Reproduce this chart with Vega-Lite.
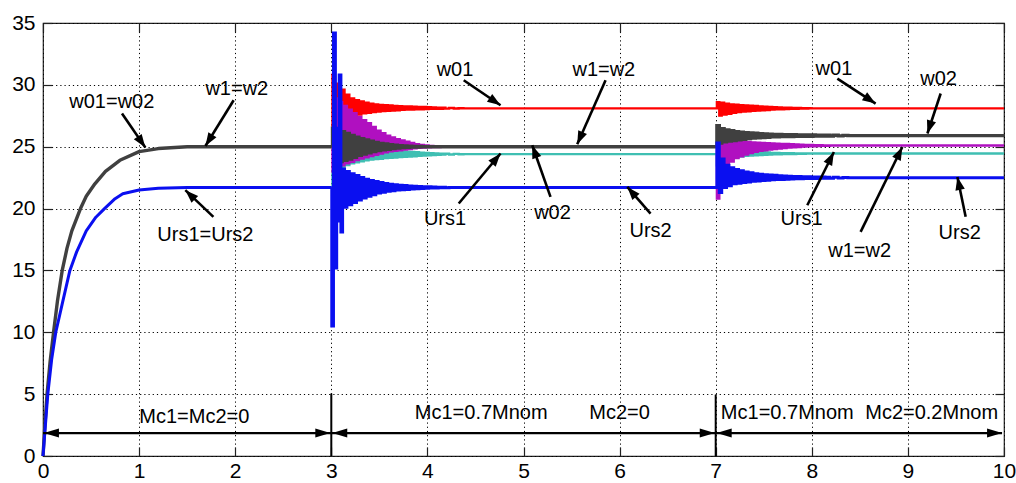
{
 "$schema": "https://vega.github.io/schema/vega-lite/v6.json",
 "width": 961,
 "height": 433,
 "autosize": {"type": "none"},
 "padding": {"left": 43, "top": 23, "right": 12, "bottom": 27},
 "background": "white",
 "config": {
  "view": {"stroke": "#222222", "strokeWidth": 1.2},
  "font": "Liberation Sans",
  "mark": {"invalid": "filter"},
  "axis": {
   "labelFont": "Liberation Sans",
   "labelFontSize": 21,
   "labelColor": "black",
   "tickColor": "#222222",
   "tickSize": -9,
   "tickWidth": 1.2,
   "domain": false,
   "gridColor": "black",
   "gridDash": [1.2, 3],
   "gridOpacity": 1,
   "gridWidth": 1,
   "title": null,
   "labelFlush": false,
   "labelOverlap": false
  }
 },
 "datasets": {
  "sig": [
   {"t":0,"g":0,"b":0},
   {"t":0.02,"g":2.5},{"t":0.042,"g":5},{"t":0.075,"g":7.7},{"t":0.11,"g":10},{"t":0.15,"g":12.5},{"t":0.2,"g":15},{"t":0.25,"g":16.8},{"t":0.3,"g":18.2},{"t":0.39,"g":20},{"t":0.45,"g":21},{"t":0.54,"g":22},{"t":0.65,"g":23},{"t":0.8,"g":23.9},{"t":1.0,"g":24.6},{"t":1.2,"g":24.85},{"t":1.5,"g":25},
   {"t":0.025,"b":2.5},{"t":0.05,"b":5},{"t":0.09,"b":7.8},{"t":0.133,"b":10},{"t":0.2,"b":12.3},{"t":0.28,"b":15},{"t":0.35,"b":16.5},{"t":0.45,"b":18.2},{"t":0.55,"b":19.3},{"t":0.64,"b":20},{"t":0.75,"b":20.8},{"t":0.83,"b":21.2},{"t":1.0,"b":21.5},{"t":1.2,"b":21.65},{"t":1.5,"b":21.7},
   {"t":3.0,"r":25,"m":25,"g":25,"c":21.7,"b":21.7},
   {"t":3.01,"b":10.5},{"t":3.035,"b":34.2},{"t":3.062,"b":26.5},{"t":3.09,"b":30.8},{"t":3.11,"b":18.1},
   {"t":3.025,"r":30.8,"m":23.0,"g":26.5,"c":23.0},
   {"t":3.05,"r":26.9,"m":28.9,"g":23.65,"c":26.3,"b":15.2},
   {"t":3.075,"r":30.1,"m":23.3,"g":26.4,"c":23.2,"b":19.0},
   {"t":3.1,"r":27.0,"m":28.6,"g":23.8,"c":25.9},
   {"t":3.125,"r":29.6,"m":23.5,"g":26.22,"c":23.37,"b":23.2},
   {"t":3.15,"r":27.15,"m":28.3,"g":23.9,"c":25.65,"b":20.1},
   {"t":3.175,"r":29.2,"m":23.65,"g":26.07,"c":23.52,"b":23.0},
   {"t":3.2,"r":27.3,"m":28.0,"g":24.0,"c":25.4,"b":20.3},
   {"t":3.225,"r":28.9,"m":23.78,"g":25.92,"c":23.65,"b":22.82},
   {"t":3.25,"r":27.45,"m":27.7,"g":24.15,"c":25.25,"b":20.5},
   {"t":3.275,"r":28.75,"m":23.93,"g":25.77,"c":23.75,"b":22.67},
   {"t":3.3,"r":27.6,"m":27.4,"g":24.3,"c":25.1,"b":20.7},
   {"t":3.325,"r":28.65,"m":24.05,"g":25.65,"c":23.83,"b":22.52},
   {"t":3.35,"r":27.7,"m":27.15,"g":24.4,"c":25.0,"b":20.85},
   {"t":3.375,"r":28.55,"m":24.15,"g":25.55,"c":23.91,"b":22.37},
   {"t":3.4,"r":27.75,"m":26.9,"g":24.5,"c":24.9,"b":21.0},
   {"t":3.425,"r":28.48,"m":24.25,"g":25.45,"c":23.97,"b":22.26},
   {"t":3.45,"r":27.8,"m":26.6,"g":24.6,"c":24.85,"b":21.12},
   {"t":3.475,"r":28.42,"m":24.35,"g":25.35,"c":24.0,"b":22.18},
   {"t":3.5,"r":27.85,"m":26.3,"g":24.7,"c":24.8,"b":21.25},
   {"t":3.525,"r":28.38,"m":24.45,"g":25.27,"c":24.03,"b":22.1},
   {"t":3.55,"r":27.88,"m":26.1,"g":24.75,"c":24.75,"b":21.32},
   {"t":3.575,"r":28.36,"m":24.55,"g":25.22,"c":24.08,"b":22.03},
   {"t":3.6,"r":27.9,"m":25.9,"g":24.8,"c":24.7,"b":21.4},
   {"t":3.625,"r":28.33,"m":24.62,"g":25.17,"c":24.11,"b":21.97},
   {"t":3.65,"r":27.93,"m":25.75,"g":24.85,"c":24.67,"b":21.45},
   {"t":3.675,"r":28.3,"m":24.67,"g":25.12,"c":24.13,"b":21.92},
   {"t":3.7,"r":27.95,"m":25.6,"g":24.9,"c":24.65,"b":21.5},
   {"t":3.725,"r":28.28,"m":24.72,"g":25.08,"c":24.16,"b":21.88},
   {"t":3.75,"r":27.98,"m":25.5,"g":24.93,"c":24.62,"b":21.53},
   {"t":3.775,"r":28.26,"m":24.77,"g":25.06,"c":24.18,"b":21.86},
   {"t":3.8,"r":28.0,"m":25.4,"g":24.95,"c":24.6,"b":21.55},
   {"t":3.825,"r":28.25,"m":24.82,"g":25.04,"c":24.21,"b":21.83},
   {"t":3.85,"r":28.01,"m":25.3,"g":24.97,"c":24.57,"b":21.58},
   {"t":3.875,"r":28.23,"m":24.87,"g":25.03,"c":24.23,"b":21.81},
   {"t":3.9,"r":28.02,"m":25.2,"g":24.98,"c":24.55,"b":21.6},
   {"t":3.925,"r":28.22,"m":24.91,"g":25.02,"c":24.26,"b":21.79},
   {"t":3.95,"r":28.03,"m":25.15,"g":24.99,"c":24.52,"b":21.62},
   {"t":3.975,"r":28.21,"m":24.93,"g":25.01,"c":24.28,"b":21.77},
   {"t":4.0,"r":28.05,"m":25.1,"g":25.0,"c":24.5,"b":21.65},
   {"t":4.025,"r":28.19,"m":24.95,"c":24.31,"b":21.76},
   {"t":4.05,"r":28.06,"m":25.07,"c":24.48,"b":21.66},
   {"t":4.075,"r":28.17,"m":24.97,"c":24.33,"b":21.74},
   {"t":4.1,"r":28.07,"m":25.05,"c":24.45,"b":21.67},
   {"t":4.125,"r":28.16,"m":24.98,"c":24.35,"b":21.73},
   {"t":4.15,"r":28.07,"m":25.03,"c":24.44,"b":21.68},
   {"t":4.175,"r":28.15,"m":24.99,"c":24.36,"b":21.72},
   {"t":4.2,"r":28.08,"m":25.0,"c":24.43,"b":21.69},
   {"t":4.25,"r":28.13,"c":24.37,"b":21.7},
   {"t":4.3,"r":28.09,"c":24.42},
   {"t":4.35,"r":28.11,"c":24.39},
   {"t":4.4,"r":28.1,"c":24.4},
   {"t":7.0,"r":28.1,"m":25,"g":25,"c":24.4,"b":21.7},
   {"t":7.025,"r":28.6,"m":20.8,"g":26.7,"c":23.5,"b":25.3},
   {"t":7.05,"r":27.52,"m":26.2,"g":25.3,"c":25.3,"b":21.3},
   {"t":7.075,"r":28.55,"m":22.5,"g":26.45,"c":23.75,"b":24.0},
   {"t":7.1,"r":27.6,"m":25.7,"g":25.4,"c":24.9,"b":21.7},
   {"t":7.125,"r":28.48,"m":23.3,"g":26.36,"c":23.95,"b":23.5},
   {"t":7.15,"r":27.67,"m":25.55,"g":25.45,"c":24.82,"b":21.85},
   {"t":7.175,"r":28.42,"m":23.8,"g":26.29,"c":24.05,"b":23.3},
   {"t":7.2,"r":27.75,"m":25.45,"g":25.5,"c":24.75,"b":22.0},
   {"t":7.225,"r":28.39,"m":24.08,"g":26.22,"c":24.14,"b":23.15},
   {"t":7.25,"r":27.8,"m":25.43,"g":25.55,"c":24.7,"b":22.05},
   {"t":7.275,"r":28.36,"m":24.23,"g":26.17,"c":24.21,"b":23.05},
   {"t":7.3,"r":27.85,"m":25.4,"g":25.6,"c":24.65,"b":22.1},
   {"t":7.325,"r":28.34,"m":24.36,"g":26.14,"c":24.26,"b":22.96},
   {"t":7.35,"r":27.87,"m":25.38,"g":25.65,"c":24.63,"b":22.15},
   {"t":7.375,"r":28.31,"m":24.49,"g":26.11,"c":24.29,"b":22.89},
   {"t":7.4,"r":27.9,"m":25.35,"g":25.7,"c":24.6,"b":22.2},
   {"t":7.425,"r":28.29,"m":24.59,"g":26.09,"c":24.31,"b":22.82},
   {"t":7.45,"r":27.92,"m":25.33,"g":25.72,"c":24.58,"b":22.23},
   {"t":7.475,"r":28.26,"m":24.66,"g":26.06,"c":24.33,"b":22.78},
   {"t":7.5,"r":27.95,"m":25.3,"g":25.75,"c":24.55,"b":22.27},
   {"t":7.525,"r":28.24,"m":24.72,"g":26.04,"c":24.35,"b":22.74},
   {"t":7.55,"r":27.97,"m":25.29,"g":25.77,"c":24.53,"b":22.29},
   {"t":7.575,"r":28.21,"m":24.77,"g":26.01,"c":24.37,"b":22.71},
   {"t":7.6,"r":28.0,"m":25.27,"g":25.8,"c":24.5,"b":22.32},
   {"t":7.625,"r":28.19,"m":24.82,"g":26.0,"c":24.38,"b":22.69},
   {"t":7.65,"r":28.02,"m":25.25,"g":25.81,"c":24.49,"b":22.34},
   {"t":7.675,"r":28.18,"m":24.86,"g":25.99,"c":24.39,"b":22.66},
   {"t":7.7,"r":28.03,"m":25.23,"g":25.82,"c":24.48,"b":22.36},
   {"t":7.725,"r":28.16,"m":24.9,"g":25.98,"c":24.4,"b":22.64},
   {"t":7.75,"r":28.05,"m":25.22,"g":25.82,"c":24.47,"b":22.38},
   {"t":7.775,"r":28.15,"m":24.93,"g":25.97,"c":24.4,"b":22.61},
   {"t":7.8,"r":28.06,"m":25.2,"g":25.83,"c":24.47,"b":22.4},
   {"t":7.825,"r":28.14,"m":24.96,"g":25.97,"c":24.41,"b":22.6},
   {"t":7.85,"r":28.07,"m":25.19,"g":25.84,"c":24.46,"b":22.41},
   {"t":7.875,"r":28.13,"m":24.98,"g":25.96,"c":24.42,"b":22.59},
   {"t":7.9,"r":28.08,"m":25.17,"g":25.84,"c":24.46,"b":22.42},
   {"t":7.925,"r":28.12,"m":25.01,"g":25.96,"c":24.43,"b":22.58},
   {"t":7.95,"r":28.09,"m":25.15,"g":25.85,"c":24.45,"b":22.43},
   {"t":7.975,"r":28.11,"m":25.03,"g":25.95,"c":24.44,"b":22.57},
   {"t":8.0,"r":28.1,"m":25.14,"g":25.85,"c":24.45,"b":22.43},
   {"t":8.025,"m":25.04,"g":25.95,"b":22.56},
   {"t":8.05,"m":25.13,"g":25.86,"b":22.44},
   {"t":8.075,"m":25.05,"g":25.94,"b":22.56},
   {"t":8.1,"m":25.12,"g":25.86,"b":22.45},
   {"t":8.125,"m":25.07,"g":25.94,"b":22.55},
   {"t":8.15,"m":25.11,"g":25.87,"b":22.45},
   {"t":8.175,"m":25.08,"g":25.93,"b":22.54},
   {"t":8.2,"m":25.1,"g":25.87,"b":22.46},
   {"t":8.25,"g":25.93,"b":22.53},
   {"t":8.3,"g":25.88,"b":22.47},
   {"t":8.35,"g":25.92,"b":22.52},
   {"t":8.4,"g":25.9,"b":22.5},
   {"t":10,"r":28.1,"m":25.1,"g":25.9,"c":24.45,"b":22.5}
  ],
  "labels": [
   {"t":0.716,"v":28.63,"label":"w01=w02"},
   {"t":2.017,"v":29.64,"label":"w1=w2"},
   {"t":1.69,"v":17.89,"label":"Urs1=Urs2"},
   {"t":4.287,"v":31.18,"label":"w01"},
   {"t":5.836,"v":31.18,"label":"w1=w2"},
   {"t":4.183,"v":19.17,"label":"Urs1"},
   {"t":5.302,"v":19.67,"label":"w02"},
   {"t":6.322,"v":18.17,"label":"Urs2"},
   {"t":8.23,"v":31.32,"label":"w01"},
   {"t":9.32,"v":30.44,"label":"w02"},
   {"t":7.894,"v":19.14,"label":"Urs1"},
   {"t":8.498,"v":16.6,"label":"w1=w2"},
   {"t":9.539,"v":18.05,"label":"Urs2"},
   {"t":1.575,"v":3.17,"label":"Mc1=Mc2=0"},
   {"t":4.56,"v":3.45,"label":"Mc1=0.7Mnom"},
   {"t":6.0,"v":3.45,"label":"Mc2=0"},
   {"t":7.745,"v":3.45,"label":"Mc1=0.7Mnom"},
   {"t":9.247,"v":3.45,"label":"Mc2=0.2Mnom"}
  ],
  "arrows": [
   {"t1":0.822,"v1":27.68,"t2":1.065,"v2":24.94,"ang":145},
   {"t1":1.984,"v1":28.76,"t2":1.69,"v2":25.06,"ang":212},
   {"t1":1.773,"v1":19.33,"t2":1.481,"v2":21.49,"ang":314},
   {"t1":4.378,"v1":30.37,"t2":4.761,"v2":28.35,"ang":124},
   {"t1":5.854,"v1":30.37,"t2":5.559,"v2":25.2,"ang":204},
   {"t1":4.326,"v1":20.41,"t2":4.761,"v2":24.45,"ang":40},
   {"t1":5.281,"v1":20.95,"t2":5.091,"v2":25.12,"ang":340},
   {"t1":6.322,"v1":19.6,"t2":6.08,"v2":21.75,"ang":319},
   {"t1":8.266,"v1":30.51,"t2":8.664,"v2":28.49,"ang":123},
   {"t1":9.341,"v1":29.3,"t2":9.203,"v2":26.07,"ang":198},
   {"t1":7.953,"v1":20.27,"t2":8.23,"v2":24.57,"ang":27},
   {"t1":8.508,"v1":18.12,"t2":8.942,"v2":24.98,"ang":26},
   {"t1":9.601,"v1":19.33,"t2":9.515,"v2":22.56,"ang":348}
  ],
  "spans": [
   {"t1":0,"v1":1.85,"t2":3,"v2":1.85},
   {"t1":3,"v1":1.85,"t2":7,"v2":1.85},
   {"t1":7,"v1":1.85,"t2":9.98,"v2":1.85}
  ],
  "spanheads": [
   {"t":0.01,"v":1.85,"ang":270},
   {"t":2.99,"v":1.85,"ang":90},
   {"t":3.01,"v":1.85,"ang":270},
   {"t":6.99,"v":1.85,"ang":90},
   {"t":7.01,"v":1.85,"ang":270},
   {"t":9.98,"v":1.85,"ang":90}
  ],
  "marks": [
   {"t":3,"v1":0,"v2":5.05},
   {"t":7,"v1":0,"v2":4.95}
  ]
 },
 "layer": [
  {
   "layer": [
    {
     "data": {"name": "sig"},
     "transform": [{"filter": "datum.t >= 3"}],
     "mark": {"type": "line", "color": "#ff0000", "strokeWidth": 2.4, "interpolate": "step", "invalid": "filter"},
     "encoding": {
      "x": {"field": "t", "type": "quantitative", "scale": {"domain": [0, 10], "nice": false, "zero": false},
            "axis": {"values": [0,1,2,3,4,5,6,7,8,9,10], "format": "d", "grid": true, "labelPadding": 13}},
      "y": {"field": "r", "type": "quantitative", "scale": {"domain": [0, 35], "nice": false, "zero": false},
            "axis": {"values": [0,5,10,15,20,25,30,35], "format": "d", "grid": true, "labelPadding": 17}}
     }
    },
    {
     "data": {"name": "sig"},
     "transform": [{"filter": "datum.t >= 3"}],
     "mark": {"type": "line", "color": "#3fbfb2", "strokeWidth": 2.4, "interpolate": "step", "invalid": "filter"},
     "encoding": {
      "x": {"field": "t", "type": "quantitative"},
      "y": {"field": "c", "type": "quantitative"}
     }
    },
    {
     "data": {"name": "sig"},
     "transform": [{"filter": "datum.t >= 3"}],
     "mark": {"type": "line", "color": "#b010c0", "strokeWidth": 2.4, "interpolate": "step", "invalid": "filter"},
     "encoding": {
      "x": {"field": "t", "type": "quantitative"},
      "y": {"field": "m", "type": "quantitative"}
     }
    },
    {
     "data": {"name": "sig"},
     "transform": [{"filter": "datum.t <= 3"}],
     "mark": {"type": "line", "color": "#404040", "strokeWidth": 3.4, "strokeJoin": "round", "invalid": "filter"},
     "encoding": {
      "x": {"field": "t", "type": "quantitative"},
      "y": {"field": "g", "type": "quantitative"}
     }
    },
    {
     "data": {"name": "sig"},
     "transform": [{"filter": "datum.t >= 3"}],
     "mark": {"type": "line", "color": "#404040", "strokeWidth": 3.4, "interpolate": "step", "invalid": "filter"},
     "encoding": {
      "x": {"field": "t", "type": "quantitative"},
      "y": {"field": "g", "type": "quantitative"}
     }
    },
    {
     "data": {"name": "sig"},
     "transform": [{"filter": "datum.t <= 3"}],
     "mark": {"type": "line", "color": "#0a0ff0", "strokeWidth": 3, "strokeJoin": "round", "invalid": "filter"},
     "encoding": {
      "x": {"field": "t", "type": "quantitative"},
      "y": {"field": "b", "type": "quantitative"}
     }
    },
    {
     "data": {"name": "sig"},
     "transform": [{"filter": "datum.t >= 3"}],
     "mark": {"type": "line", "color": "#0a0ff0", "strokeWidth": 3, "interpolate": "step", "invalid": "filter"},
     "encoding": {
      "x": {"field": "t", "type": "quantitative"},
      "y": {"field": "b", "type": "quantitative"}
     }
    },
    {
     "data": {"name": "marks"},
     "mark": {"type": "rule", "color": "black", "strokeWidth": 2},
     "encoding": {
      "x": {"field": "t", "type": "quantitative"},
      "y": {"field": "v1", "type": "quantitative"},
      "y2": {"field": "v2"}
     }
    },
    {
     "data": {"name": "spans"},
     "mark": {"type": "rule", "color": "black", "strokeWidth": 2.4},
     "encoding": {
      "x": {"field": "t1", "type": "quantitative"},
      "x2": {"field": "t2"},
      "y": {"field": "v1", "type": "quantitative"},
      "y2": {"field": "v2"}
     }
    },
    {
     "data": {"name": "spanheads"},
     "mark": {"type": "point", "shape": "M0,0L0.3,1L-0.3,1Z", "filled": true, "color": "black", "opacity": 1, "size": 900, "strokeWidth": 0},
     "encoding": {
      "x": {"field": "t", "type": "quantitative"},
      "y": {"field": "v", "type": "quantitative"},
      "angle": {"field": "ang", "type": "quantitative", "scale": null}
     }
    },
    {
     "data": {"name": "arrows"},
     "mark": {"type": "rule", "color": "black", "strokeWidth": 2.6},
     "encoding": {
      "x": {"field": "t1", "type": "quantitative"},
      "x2": {"field": "t2"},
      "y": {"field": "v1", "type": "quantitative"},
      "y2": {"field": "v2"}
     }
    },
    {
     "data": {"name": "arrows"},
     "mark": {"type": "point", "shape": "M0,0L0.36,1L-0.36,1Z", "filled": true, "color": "black", "opacity": 1, "size": 700, "strokeWidth": 0},
     "encoding": {
      "x": {"field": "t2", "type": "quantitative"},
      "y": {"field": "v2", "type": "quantitative"},
      "angle": {"field": "ang", "type": "quantitative", "scale": null}
     }
    },
    {
     "data": {"name": "labels"},
     "mark": {"type": "text", "font": "Liberation Sans", "fontSize": 20, "color": "black", "align": "center", "baseline": "middle"},
     "encoding": {
      "x": {"field": "t", "type": "quantitative"},
      "y": {"field": "v", "type": "quantitative"},
      "text": {"field": "label", "type": "nominal"}
     }
    }
   ]
  },
  {
   "data": {"values": [{"t": 0, "v": 0}]},
   "mark": {"type": "point", "opacity": 0},
   "encoding": {
    "x": {"field": "t", "type": "quantitative",
          "axis": {"orient": "top", "values": [0,1,2,3,4,5,6,7,8,9,10], "labels": false, "grid": false}},
    "y": {"field": "v", "type": "quantitative",
          "axis": {"orient": "right", "values": [0,5,10,15,20,25,30,35], "labels": false, "grid": false}}
   }
  }
 ],
 "resolve": {"axis": {"x": "independent", "y": "independent"}}
}
